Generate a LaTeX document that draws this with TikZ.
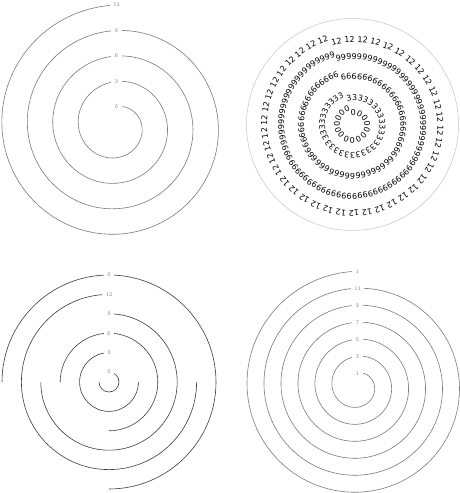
\documentclass[tikz,border=0pt]{standalone}
\usepackage{fontspec}
\usetikzlibrary{decorations.text}
\newfontfamily\ringfont{DejaVu Sans}
\newcommand\ringstyle{\ringfont\fontsize{8}{9.6}\selectfont}
\definecolor{spiralgray}{HTML}{7A7A7A}
\definecolor{labelgray}{HTML}{8A8A8A}
\definecolor{rimgray}{HTML}{C4C4C4}
\definecolor{arcdark}{HTML}{3A3A3A}

\begin{document}
\begin{tikzpicture}[
  x=1pt, y=1pt,
  spiral/.style={draw=spiralgray, line width=0.6pt},
  arcline/.style={draw=arcdark, line width=0.6pt},
  lbl/.style={fill=white, text=labelgray, font=\ttfamily\fontsize{6}{7}\selectfont, inner xsep=3.5pt, inner ysep=0.8pt},
  ring/.style={decorate, decoration={text along path, text align=left, text={|\ringstyle|#1}}},
]
\useasboundingbox (0,0) rectangle (460,493);

% top left: spiral, one label per turn
\draw[spiral] plot[domain=0:4, samples=361] ({116.5+(19+25.5*\x)*sin(360*\x)}, {367+(19+25.5*\x)*cos(360*\x)});
\foreach \k/\lab in {0/0, 1/3, 2/6, 3/9, 4/12}
  \node[lbl] (a\k) at (116.5, {386+25.5*\k}) {\lab};

% top right: digits along the turns
\draw[rimgray, line width=0.5pt] (352.5,368.5) circle[radius=106pt];
\path[ring={0000000000000000}] plot[domain=0:1, samples=121] ({353.5+(9.5+5*\x)*sin(360*\x-15)}, {368+(9.5+5*\x)*cos(360*\x-15)});
\path[ring={3333333333333333333333333333333333333333}] plot[domain=0:1, samples=181] ({353.5+(24.5+5*\x)*sin(360*\x-15)}, {368+(24.5+5*\x)*cos(360*\x-15)});
\path[ring={666666666666666666666666666666666666666666666666666666666666666666}] plot[domain=0:1, samples=181] ({353.5+(45.5+5*\x)*sin(360*\x-15)}, {368+(45.5+5*\x)*cos(360*\x-15)});
\path[ring={99999999999999999999999999999999999999999999999999999999999999999999999999999999999999999999}] plot[domain=0:1, samples=241] ({353.5+(65.5+5*\x)*sin(360*\x-15)}, {368+(65.5+5*\x)*cos(360*\x-15)});
\path[ring={12 12 12 12 12 12 12 12 12 12 12 12 12 12 12 12 12 12 12 12 12 12 12 12 12 12 12 12 12 12 12 12 12 12 12 12 12 12 12 12 12 12 12 12 12 12}] plot[domain=0:1, samples=241] ({353.5+(82.5+5*\x)*sin(360*\x-15)}, {368+(82.5+5*\x)*cos(360*\x-15)});

% bottom left: three-quarter arcs
\foreach \k/\s/\e in {0/90/-180, 1/90/360, 2/180/-90, 3/90/-180, 4/90/360, 5/180/-90}
  \draw[arcline] (109,111) ++(\s:{10+19.4*\k}) arc[start angle=\s, end angle=\e, radius={10pt+19.4pt*\k}];
\foreach \k/\lab in {0/0, 1/3, 2/6, 3/9, 4/12, 5/0}
  \node[lbl] (b\k) at (109, {121+19.4*\k}) {\lab};

% bottom right: spiral, odd labels
\draw[spiral] plot[domain=0:6, samples=541] ({357.5+(12.75+17*\x)*sin(360*\x)}, {107+(12.75+17*\x)*cos(360*\x)});
\foreach \k/\lab in {0/1, 1/3, 2/5, 3/7, 4/9, 5/11, 6/1}
  \node[lbl] (c\k) at (357.5, {119.75+17*\k}) {\lab};
\end{tikzpicture}
\end{document}
